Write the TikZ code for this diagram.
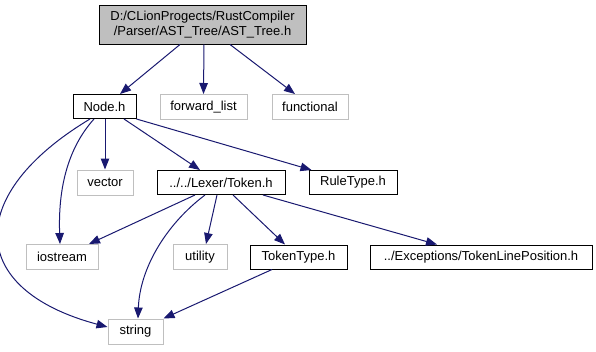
\documentclass[tikz,border=0pt]{standalone}
\usepackage{fontspec}
\setmainfont{Liberation Sans}
\usetikzlibrary{arrows.meta}

\definecolor{edgeblue}{HTML}{191970}
\definecolor{extgray}{HTML}{BFBFBF}

\begin{document}
\begin{tikzpicture}[x=1pt,y=-1pt]

      \useasboundingbox (0,0) rectangle (596,351);

      \begin{scope}[every node/.style={draw,rectangle,inner sep=0pt,line width=1pt,
          minimum height=24pt,font=\fontsize{13}{15}\selectfont}]
        \node[fill=extgray,minimum width=207pt,minimum height=39pt,align=center] (1) at (202.5,24.5)
          {D:/CLionProgects/RustCompiler\\/Parser/AST\_Tree/AST\_Tree.h};
        \node[minimum width=63pt]  (2)  at (104.5,106.5) {Node.h};
        \node[minimum width=128pt] (6)  at (221,182.5)   {../../Lexer/Token.h};
        \node[minimum width=88pt]  (7)  at (353,182.5)   {RuleType.h};
        \node[minimum width=97pt]  (10) at (298.5,257)   {TokenType.h};
        \node[minimum width=222pt] (11) at (481,257)     {../Exceptions/TokenLinePosition.h};
      \end{scope}

      \begin{scope}[every node/.style={draw=extgray,rectangle,inner sep=0pt,line width=1pt,
          minimum height=25pt,font=\fontsize{13}{15}\selectfont}]
        \node[minimum width=87pt] (3)  at (203.5,107) {forward\_list};
        \node[minimum width=76pt] (4)  at (310,107)   {functional};
        \node[minimum width=56pt] (5)  at (105,182.5) {vector};
        \node[minimum width=72pt] (8)  at (62,257)    {iostream};
        \node[minimum width=54pt] (9)  at (200,257)   {utility};
        \node[minimum width=55pt] (12) at (135.5,331.5) {string};
      \end{scope}

      \begin{scope}[every edge/.style={draw=edgeblue,line width=1pt,
          -{Triangle[length=11pt,width=8.5pt]}}]
        \path ([xshift=-22.5]1.south) edge ([xshift=15.5]2.north);
        \path ([xshift=1.5]1.south)   edge (3.north);
        \path ([xshift=27.5]1.south)  edge ([xshift=-15]4.north);
        \path (2.south -| 5.north)    edge (5.north);
        \path ([xshift=19.5]2.south)  edge ([xshift=-21]6.north);
        \path (2.south east)          edge ([xshift=3]7.north west);
        \path ([xshift=-10.5]2.south) edge[out=228,in=92,looseness=0.9] ([xshift=-2]8.north);
        \path ([xshift=-14.5]2.south) edge[out=211,in=165,looseness=1.8] ([yshift=4.5]12.west);
        \path ([xshift=-26]6.south)   edge ([xshift=27]8.north);
        \path ([xshift=-16]6.south)   edge[out=217,in=88,looseness=0.9] ([xshift=2.5]12.north);
        \path ([xshift=-4]6.south)    edge ([xshift=6]9.north);
        \path ([xshift=12]6.south)    edge ([xshift=-13.5]10.north);
        \path ([xshift=42]6.south)    edge ([xshift=-44]11.north);
        \path ([xshift=-26.5]10.south) edge (12.north east);
      \end{scope}

    \end{tikzpicture}
\end{document}
